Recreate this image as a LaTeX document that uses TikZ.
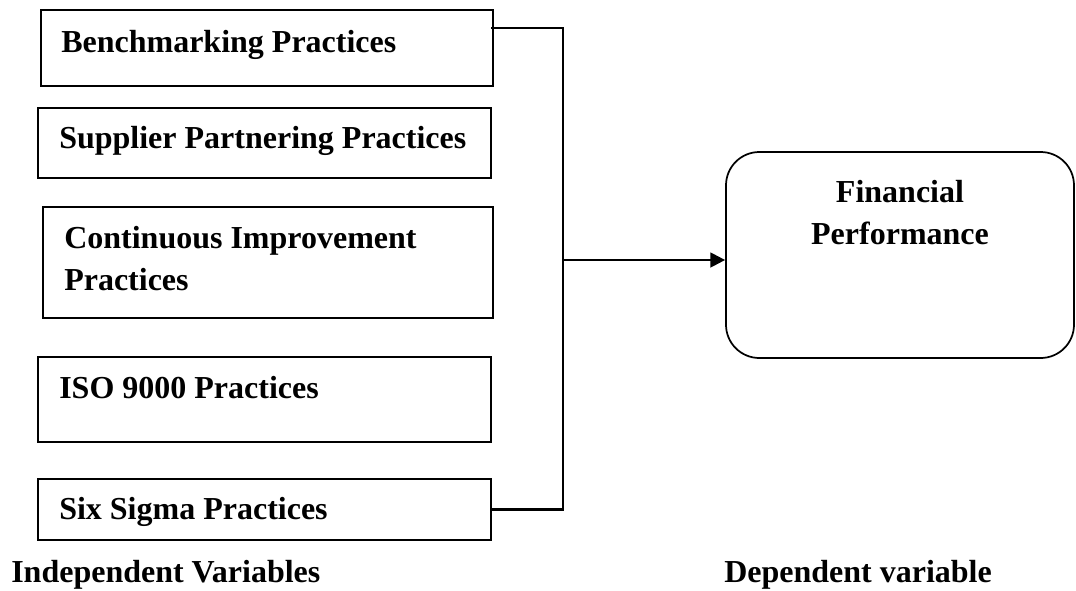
\documentclass[tikz,border=0pt]{standalone}
\usepackage{fontspec}
\setmainfont{Liberation Serif}
\usetikzlibrary{arrows.meta}

\begin{document}
\begin{tikzpicture}[x=0.75pt,y=-0.75pt,
  box node/.style={rectangle,draw,line width=1.3pt,inner sep=0pt},
  label node/.style={anchor=base west,inner sep=0pt,font=\fontsize{24}{31.5}\selectfont\bfseries},
  link/.style={line width=1.7pt}]
  \useasboundingbox (0,0) rectangle (1076,590);

  \node[box node,minimum width=339pt,minimum height=57pt] (b1) at (267,48) {};
  \node[box node,minimum width=339.75pt,minimum height=52.5pt] (b2) at (264.5,143) {};
  \node[box node,minimum width=337.5pt,minimum height=83.25pt] (b3) at (268,262.5) {};
  \node[box node,minimum width=339.75pt,minimum height=63.75pt] (b4) at (264.5,399.5) {};
  \node[box node,minimum width=339.75pt,minimum height=45.75pt] (b5) at (264.5,509.5) {};
  \node[box node,rounded corners=25pt,minimum width=261pt,minimum height=154.5pt] (fp) at (900,255) {};

  \node[label node] (t1) at (61,52) {Benchmarking Practices};
  \node[label node] (t2) at (59,148) {Supplier Partnering Practices};
  \node[label node,align=left] (t3) at (64,290) {Continuous Improvement\\Practices};
  \node[label node] (t4) at (59,398) {ISO 9000 Practices};
  \node[label node] (t5) at (59,519) {Six Sigma Practices};
  \node[label node,anchor=base,align=center] (t6) at (900,244) {Financial\\Performance};
  \node[label node] (iv) at (11,582) {Independent Variables};
  \node[label node] (dv) at (724,582) {Dependent variable};

  \coordinate (c1) at (491,28);
  \coordinate (j) at (563,260);
  \draw[link] (c1) -| (j) |- (b5.east);
  \draw[link,-{Triangle[length=11pt,width=11pt]}] (j) -- (j -| fp.west);
\end{tikzpicture}
\end{document}
